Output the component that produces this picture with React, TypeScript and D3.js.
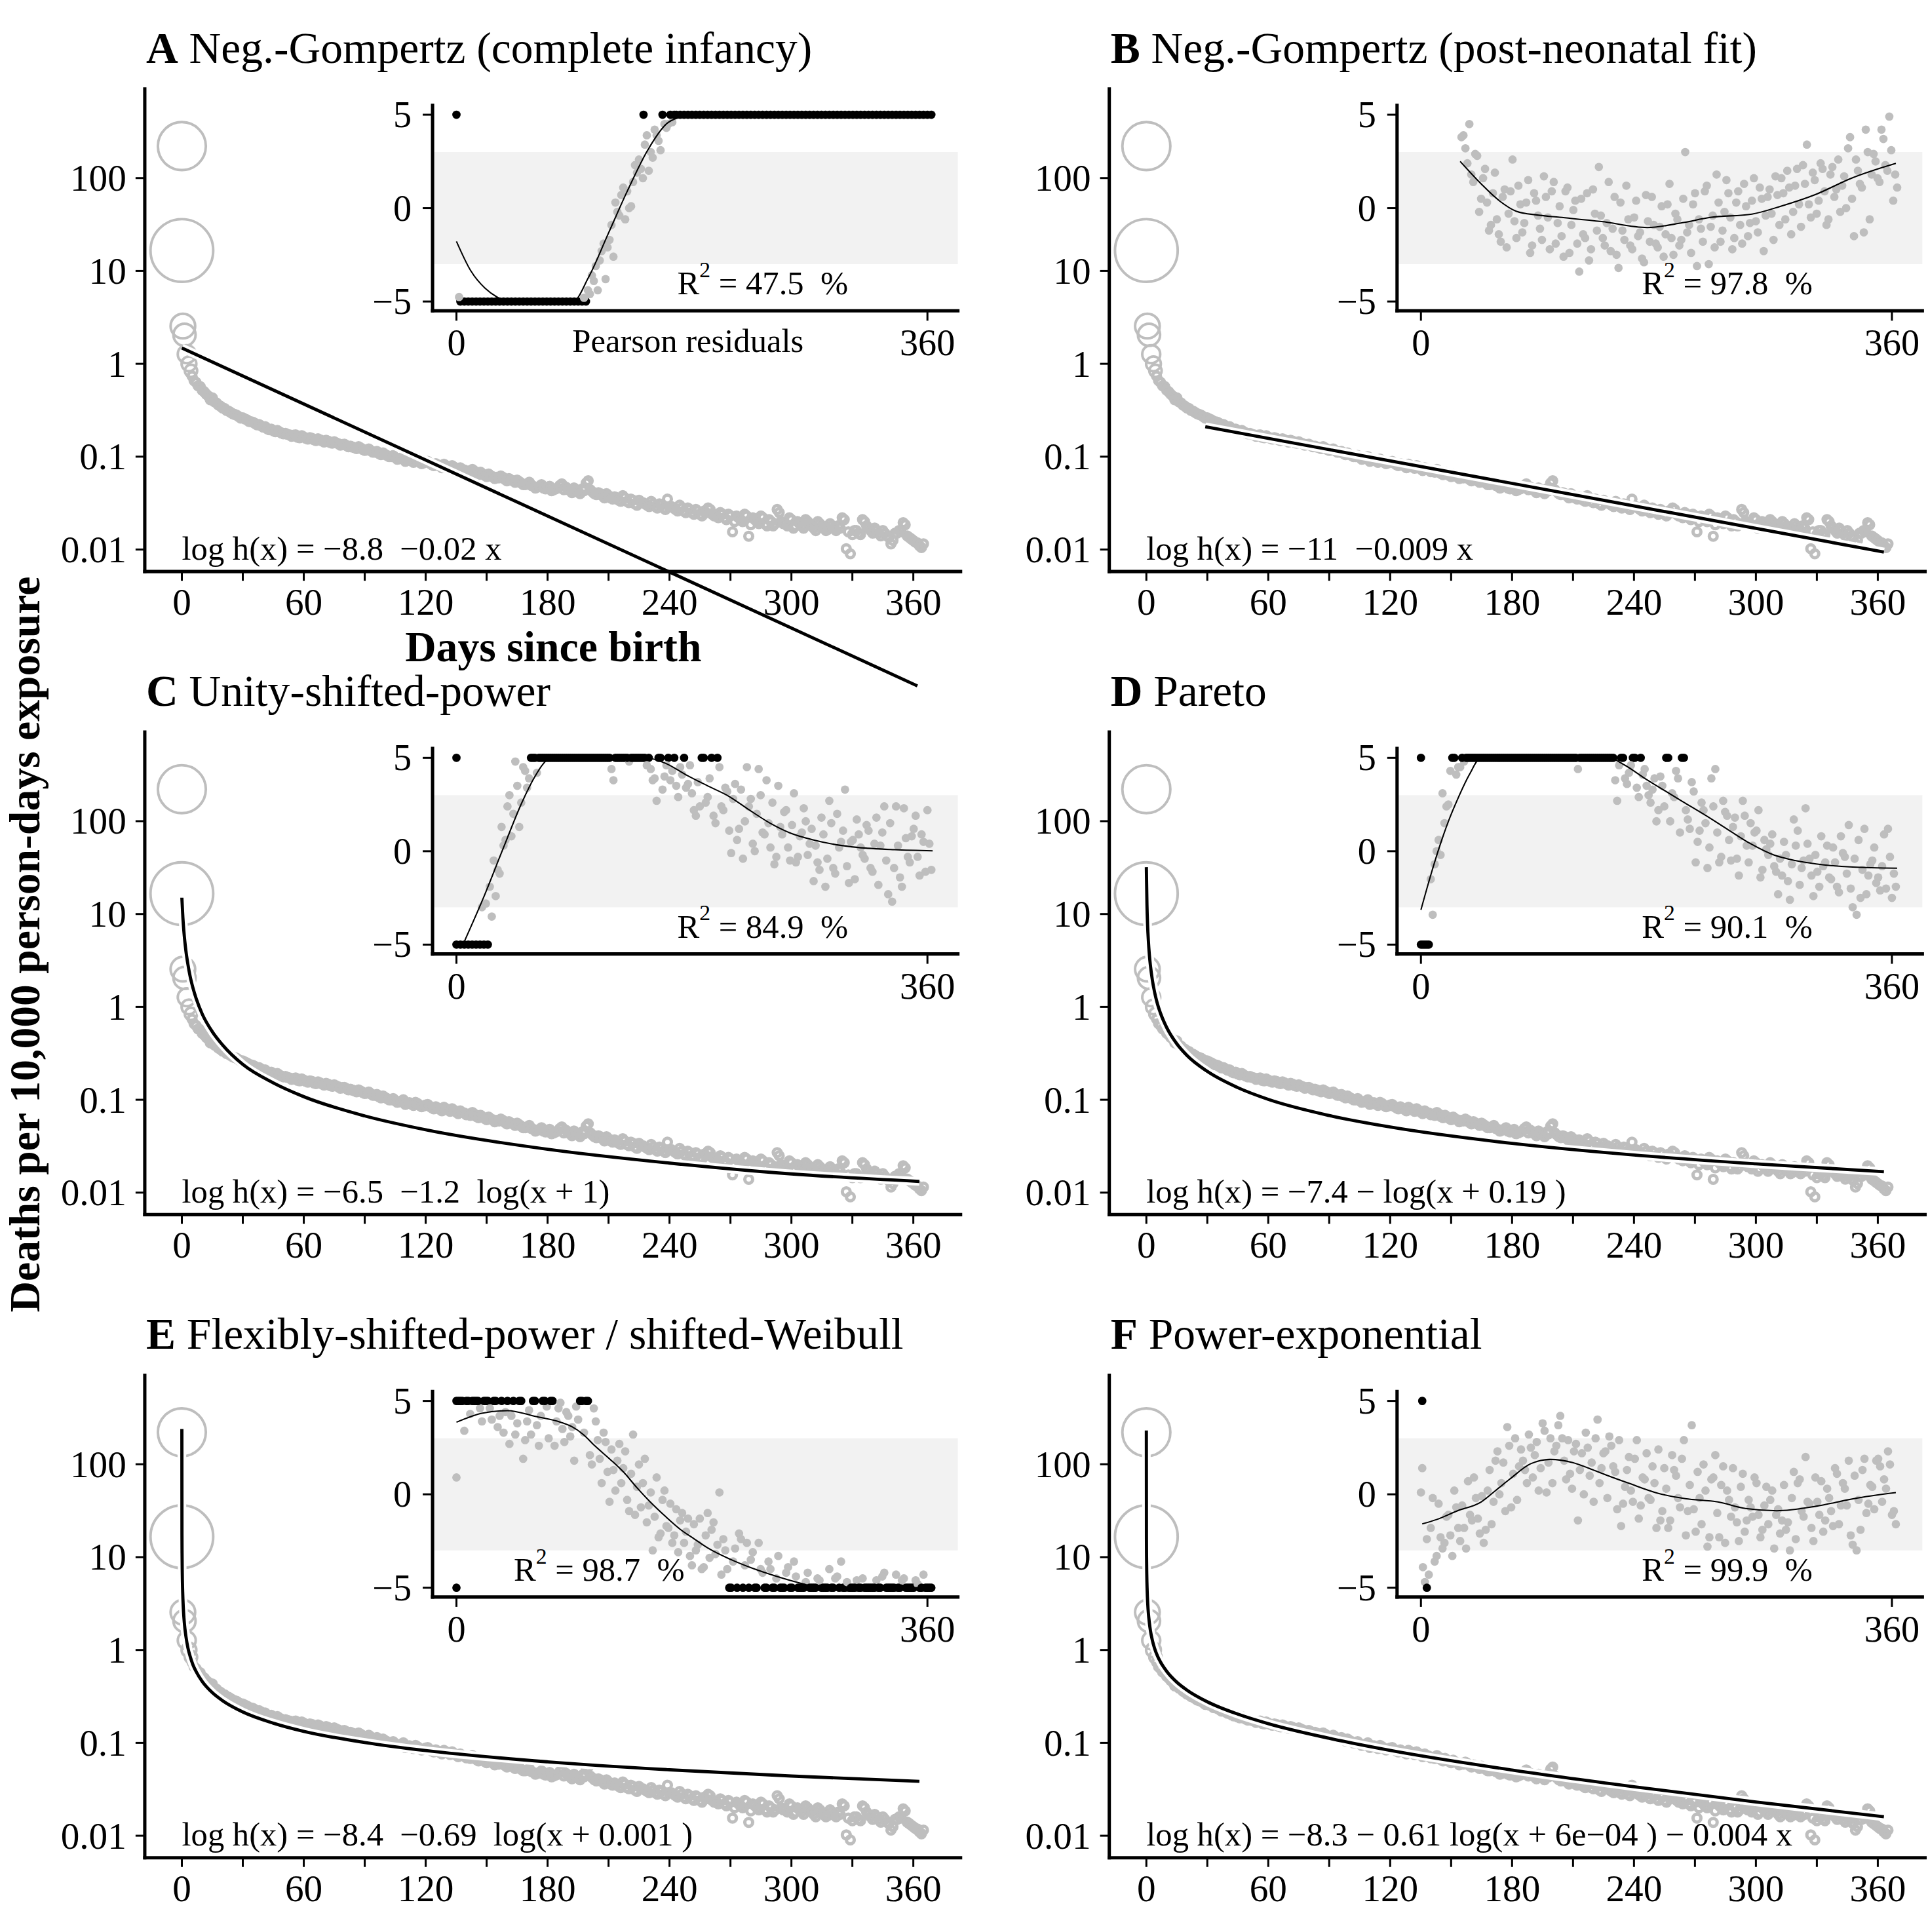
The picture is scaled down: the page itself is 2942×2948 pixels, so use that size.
import * as d3 from "d3";

const FONT = "'Liberation Serif', 'Times New Roman', Times, serif";
const GREY = "#bebebe";
const BAND = "#f2f2f2";

// drawing units: the figure is laid out on a 1568-wide grid and scaled up
const VB_W = 1568;
const VB_H = (1568 * 2948) / 2942;
const COL_DX = 784.4;
const ROW_DY = 523;

// observed hazard (deaths per 10,000 person-days), odd days 5..365
const obsOdd = [
  0.74, 0.63, 0.57, 0.5, 0.45, 0.43, 0.38, 0.35, 0.33, 0.31,
  0.29, 0.28, 0.26, 0.255, 0.24, 0.235, 0.22, 0.215, 0.21, 0.195,
  0.19, 0.192, 0.18, 0.178, 0.172, 0.17, 0.162, 0.168, 0.158, 0.16,
  0.152, 0.156, 0.148, 0.15, 0.142, 0.145, 0.138, 0.135, 0.132, 0.13,
  0.125, 0.128, 0.12, 0.118, 0.116, 0.112, 0.108, 0.11, 0.103, 0.1,
  0.098, 0.095, 0.1, 0.092, 0.09, 0.094, 0.087, 0.086, 0.089, 0.082,
  0.084, 0.079, 0.083, 0.078, 0.08, 0.074, 0.076, 0.072, 0.07, 0.073,
  0.066, 0.068, 0.063, 0.065, 0.061, 0.06, 0.062, 0.057, 0.058, 0.055,
  0.056, 0.052, 0.05, 0.053, 0.048, 0.047, 0.05, 0.045, 0.048, 0.044,
  0.046, 0.051, 0.047, 0.043, 0.046, 0.042, 0.045, 0.052, 0.044, 0.04,
  0.041, 0.038, 0.04, 0.036, 0.037, 0.034, 0.038, 0.033, 0.035, 0.031,
  0.034, 0.032, 0.03, 0.033, 0.029, 0.031, 0.028, 0.035, 0.029, 0.027,
  0.03, 0.026, 0.028, 0.025, 0.027, 0.024, 0.026, 0.028, 0.024, 0.023,
  0.025, 0.022, 0.024, 0.0155, 0.023, 0.021, 0.024, 0.0139, 0.022, 0.02,
  0.023, 0.019, 0.021, 0.018, 0.027, 0.02, 0.019, 0.022, 0.017, 0.02,
  0.018, 0.021, 0.019, 0.017, 0.02, 0.018, 0.016, 0.019, 0.017, 0.018,
  0.022, 0.0102, 0.009, 0.016, 0.015, 0.021, 0.018, 0.016, 0.017, 0.015,
  0.016, 0.014, 0.0115, 0.015, 0.016, 0.0195, 0.014, 0.013, 0.012, 0.011,
  0.0115,
];
// observed hazard, even days 6..364
const obsEven = [
  0.66, 0.58, 0.52, 0.47, 0.41, 0.39, 0.36, 0.335, 0.315, 0.3,
  0.285, 0.27, 0.262, 0.25, 0.238, 0.228, 0.222, 0.208, 0.2, 0.198,
  0.186, 0.185, 0.176, 0.174, 0.166, 0.172, 0.16, 0.163, 0.155, 0.158,
  0.149, 0.152, 0.144, 0.147, 0.14, 0.141, 0.133, 0.136, 0.128, 0.127,
  0.122, 0.124, 0.117, 0.121, 0.112, 0.114, 0.105, 0.106, 0.1, 0.103,
  0.094, 0.097, 0.089, 0.093, 0.087, 0.091, 0.084, 0.088, 0.085, 0.08,
  0.081, 0.076, 0.08, 0.075, 0.077, 0.071, 0.073, 0.069, 0.068, 0.07,
  0.064, 0.065, 0.061, 0.062, 0.058, 0.059, 0.06, 0.055, 0.056, 0.053,
  0.054, 0.05, 0.051, 0.049, 0.046, 0.048, 0.046, 0.047, 0.043, 0.045,
  0.049, 0.044, 0.045, 0.041, 0.044, 0.04, 0.043, 0.055, 0.042, 0.039,
  0.04, 0.036, 0.038, 0.035, 0.036, 0.033, 0.036, 0.032, 0.034, 0.03,
  0.032, 0.031, 0.029, 0.031, 0.028, 0.03, 0.027, 0.029, 0.028, 0.026,
  0.028, 0.025, 0.027, 0.024, 0.026, 0.023, 0.025, 0.027, 0.023, 0.022,
  0.024, 0.021, 0.023, 0.02, 0.022, 0.02, 0.023, 0.0185, 0.021, 0.019,
  0.022, 0.018, 0.02, 0.019, 0.025, 0.019, 0.018, 0.021, 0.018, 0.019,
  0.017, 0.02, 0.018, 0.016, 0.019, 0.017, 0.0165, 0.018, 0.016, 0.017,
  0.021, 0.0155, 0.0145, 0.016, 0.0145, 0.02, 0.017, 0.015, 0.016, 0.014,
  0.015, 0.0135, 0.0125, 0.015, 0.0155, 0.0185, 0.0135, 0.0125, 0.0118, 0.0105,
];
// first days: [day, hazard, circle radius]
const earlyObs: [number, number, number][] = [
  [0, 221, 19.5], [0, 16.6, 25.5], [0.5, 2.55, 10], [1.3, 2.05, 9],
  [2.4, 1.27, 7.3], [3.5, 1.0, 6], [4.5, 0.84, 5],
];

// fitted hazards: [day, hazard]
const fitA: [number, number][] = [[0, 1.48], [362, 0.00034]];
const fitB: [number, number][] = [[29, 0.21], [363, 0.0094]];
const fitC: [number, number][] = [
  [0, 15], [0.5, 9.2], [1, 6.5], [2, 4], [3, 2.85], [4, 2.17], [5.5, 1.59], [7, 1.24],
  [10, 0.84], [15, 0.54], [20, 0.39], [30, 0.24], [45, 0.152], [60, 0.108], [90, 0.067],
  [120, 0.0475], [180, 0.0293], [240, 0.0208], [300, 0.0159], [363, 0.0132],
];
const fitD: [number, number][] = [
  [0, 32], [0.3, 12.5], [0.6, 7.7], [1, 5.13], [1.5, 3.6], [2, 2.79], [3, 1.92], [4, 1.46],
  [5.5, 1.07], [7, 0.85], [10, 0.6], [15, 0.4], [20, 0.3], [30, 0.202], [45, 0.135],
  [60, 0.101], [90, 0.0677], [120, 0.0509], [180, 0.0339], [240, 0.0254], [300, 0.0204],
  [363, 0.0168],
];
const fitE: [number, number][] = [
  [0, 240], [0.05, 17.5], [0.1, 11], [0.2, 6.8], [0.4, 4.25], [0.7, 2.88], [1, 2.25],
  [1.5, 1.7], [2, 1.4], [3, 1.05], [4, 0.865], [5.5, 0.69], [7, 0.587], [10, 0.459],
  [15, 0.347], [20, 0.285], [30, 0.215], [45, 0.163], [60, 0.133], [90, 0.101],
  [120, 0.0826], [180, 0.0625], [240, 0.0513], [300, 0.0439], [363, 0.0385],
];
const fitF: [number, number][] = [
  [0, 231], [0.05, 15.4], [0.1, 10.1], [0.2, 6.6], [0.4, 4.35], [0.7, 3.1], [1, 2.48],
  [1.5, 1.95], [2, 1.62], [3, 1.26], [4, 1.05], [5.5, 0.86], [7, 0.74], [10, 0.59],
  [15, 0.45], [20, 0.37], [30, 0.277], [45, 0.204], [60, 0.161], [90, 0.112],
  [120, 0.083], [180, 0.051], [240, 0.0337], [300, 0.0231], [363, 0.016],
];

// Pearson residuals (clipped at +-5), every 3 days from the given start day
const residStep = 3;
const residA = [
  5,
  -5, -5, -5, -5, -5, -5, -5, -5, -5, -5, -5, -5, -5, -5, -5, -5, -5,
  -5, -5, -5, -5, -5, -5, -5, -5, -5, -5, -5, -5, -5, -5, -5, -5,
  -4.6, -3.9, -4.4, -2.3, -3.8, -1.7, -2.6, -0.2, 0.7, -0.6, 0.0,
  1.4, 1.9, 2.1, 3.4, 2.0, 2.7, 3.9, 3.1, 4.5, 4.5, 4.6,
  5, 5, 5, 5, 5, 5, 5, 5, 5, 5, 5, 5, 5, 5, 5, 5, 5, 5, 5, 5, 5, 5,
  5, 5, 5, 5, 5, 5, 5, 5, 5, 5, 5, 5, 5, 5, 5, 5, 5, 5, 5, 5, 5, 5,
  5, 5, 5, 5, 5, 5, 5, 5, 5, 5, 5, 5, 5, 5, 5, 5, 5, 5, 5, 5, 5, 5,
];
const residA2 = [
  -4.8, -4.4, -3.6, -3.1, -2.8, -1.9, -2.1, -0.9, 0.3, -0.4, 1.1, 0.9,
  0.1, 2.3, 2.6, 1.6, 3.9, 3.0, 4.2, 3.6, 5, 4.3, 5, 5,
];
const residB = [
  3.8, 3.2, 4.5, 1.4, 2.8, 0.5, 2.1, -1.2, 0.8, -0.6,
  -1.8, 1.0, -0.3, 2.6, -1.6, 0.2, -0.8, 1.5, -2.0, 0.4,
  -1.1, 1.7, -0.5, 0.9, -1.9, 0.1, -2.6, 1.1, -0.9, 0.4,
  -3.4, -1.4, 0.8, -2.2, -0.3, 2.2, -1.6, -0.8, -2.3, 0.6,
  -3.2, -1.2, 1.2, -2.0, -0.5, -1.5, -2.7, 0.7, -1.8, -0.9,
  -2.1, 0.1, -1.4, 1.3, -2.5, -0.6, -1.7, 3.0, -0.9, 0.2,
  -3.1, -1.1, 0.9, -3.0, -0.4, 1.8, -1.8, -0.2, 0.8, -2.2,
  0.3, -0.9, 1.3, -1.5, 0.4, -0.7, 1.1, -2.3, 0.6, -0.3,
  1.7, -0.9, 0.8, 2.0, -1.4, 1.2, 0.2, 2.3, 3.4, -0.5,
  1.5, 0.4, 2.1, -0.9, 1.8, 0.6, 2.6, 1.2, 0.0, 3.8,
  -1.5, 2.0, 1.1, 4.2, -0.6, 2.9, 1.6, 4.2, 2.3, 4.9,
  0.4, 1.1,
];
const residB2 = [
  3.9, 2.4, 1.8, 2.9, -0.2, 1.6, 0.3, -0.9, 1.9, -1.4,
  0.6, -2.1, 0.9, -0.7, 1.2, -1.3, 0.3, -2.4, 0.8, -0.4,
  -1.7, 0.6, -2.2, 1.4, -0.8, -1.5, 0.9, -2.4, -0.1, -1.9,
  0.5, -1.6, -2.8, 1.0, -1.2, -0.4, -2.0, 1.4, -1.1, -2.5,
  0.3, -1.7, -0.6, -2.2, 0.4, -1.3, -2.9, -0.7, 0.6, -1.9,
  -1.0, -2.6, 0.2, -1.6, -0.3, -2.0, 0.5, -1.3, -2.4, 0.8,
  -0.6, -1.8, 1.2, -1.0, -2.1, 0.3, -1.2, 1.5, -0.5, -1.6,
  0.9, -1.9, 0.1, -0.8, 1.6, -1.3, 0.5, -0.4, 1.0, -1.7,
  0.7, 1.6, -0.6, 1.1, -0.2, 2.1, -1.0, 1.3, 0.2, 1.9,
  -0.3, 2.4, 0.9, -0.6, 2.2, 1.0, -0.2, 1.7, 3.2, 0.5,
  2.6, 1.3, -1.3, 3.0, 1.8, 2.5, 1.4, 3.7, 2.0, 3.1,
  1.8,
];
const residC = [
  5, -5, -5, -5, -5, -5, -5, -5, -5, -3.5,
  -2.4, -1.2, 0.3, 2.4, 0.8, 4.8, 1.3, 4.5, 3.4, 5,
  5, 5, 5, 5, 5, 5, 5, 5, 5, 5, 5, 5, 5, 5, 5, 5, 5, 5, 5, 5,
  3.8, 5, 5, 5, 4.8, 5, 5, 5, 5, 5, 3.8,
  2.7, 5, 4.0, 5, 4.3, 3.5, 4.5, 5, 3.6, 3.1,
  1.9, 2.4, 5, 2.9, 5, 1.5, 4.5, 2.2, 3.2, -0.1,
  3.6, 1.2, -0.4, 4.5, 2.8, 0.0, 4.4, 1.0, 3.8, 0.2,
  -0.7, 3.5, 0.9, 2.2, -0.5, 3.1, -0.3, 1.0, 1.6, 0.4,
  -1.6, -0.6, 1.8, -1.9, 2.7, -0.9, 2.0, 0.5, 3.3, -1.7,
  0.6, 1.7, 0.2, -0.4, 1.1, -1.1, 1.8, 0.3, 2.4, -2.3,
  -2.7, 2.4, -1.4, 2.3, -0.3, 0.8, 1.9, -1.3, 0.5, 2.2,
  -1.0,
];
const residC2 = [
  -3.0, -2.8, -1.9, -0.5, -1.0, 1.3, 0.6, 3.0, 2.0, 3.5,
  2.6, 4.3, 3.9, 5, 4.2, 5,
  5, 5, 5, 5, 5, 5, 5, 5, 5, 5, 5, 5, 5, 5, 5, 5, 5,
  4.4, 5, 5, 5, 5, 5, 5, 5, 5, 4.6,
  4.4, 3.9, 5, 3.3, 4.6, 3.8, 5, 2.9, 4.1, 3.4,
  4.6, 2.2, 3.7, 5, 2.6, 3.9, 1.9, 5, 2.4, 3.4,
  1.1, 2.8, 0.6, 3.3, 1.6, 2.4, 0.4, 2.0, 3.0, 0.9,
  1.5, 2.6, -0.3, 1.3, 2.1, 0.2, 1.4, -0.6, 0.8, 2.3,
  -0.2, 1.2, 0.3, -1.0, 0.9, -0.4, 1.5, -1.2, 0.2, 1.1,
  -0.8, 0.5, -1.5, 0.9, -0.2, 1.4, -0.9, 0.4, -1.8, 1.0,
  -0.5, 1.5, -0.9, 0.3, -1.9, 0.7, -0.6, 1.2, -0.3, 0.9,
  -1.1, 0.4,
];
const residD = [
  5, -5, -5, -3.4, 0.0, -0.2, 1.5, 2.5, 5, 4.1,
  4.5, 4.8, 5, 5, 5, 5, 5, 5, 5, 5, 5, 5, 5, 5, 5, 5, 5, 5, 5, 5,
  5, 5, 5, 5, 5, 5, 5, 5, 5, 5,
  4.4, 5, 5, 5, 5, 5, 5, 5, 5, 5, 2.7,
  5, 3.9, 4.2, 5, 3.4, 5, 4.4, 3.0, 3.3, 1.6,
  4.0, 2.4, 5, 3.1, 4.3, 1.0, 5, 1.7, 3.7, -0.6,
  1.1, 2.2, -0.9, 3.9, 4.4, -0.6, 2.7, 1.9, -0.5, 1.8,
  -1.3, 2.7, 0.3, 1.5, 1.0, 2.2, -1.0, 0.1, 0.4, -0.8,
  -2.3, -1.3, -0.2, -2.6, 1.7, 1.1, -0.9, 2.3, -0.4, -2.4,
  -1.1, 0.8, -0.6, -1.4, 0.2, -1.9, 0.8, -0.3, 1.4, -3.0,
  -3.4, -2.5, 1.2, -1.3, -0.5, -1.7, -2.1, 0.9, 1.2, -2.5,
  -1.9,
];
const residD2 = [
  -5, -5, -1.5, -0.7, 0.6, 3.1, 2.4, 4.3, 5, 4.5, 5,
  5, 5, 5, 5, 5, 5, 5, 5, 5, 5, 5, 5, 5, 5, 5, 5, 5, 5, 5,
  5, 5, 5, 5, 5, 5, 5, 5, 5, 5, 5, 5, 5, 5, 5, 5, 5, 5, 5,
  3.8, 4.6, 5, 3.6, 4.6, 5, 2.9, 4.1, 3.5, 2.6,
  3.9, 2.2, 3.5, 5, 1.6, 2.9, 3.9, 5, 2.2, 1.2,
  3.2, 0.5, 2.6, 1.5, 0.2, 2.4, 1.0, -0.3, 2.1, 0.6,
  1.3, -0.4, 0.8, 1.9, -0.6, 0.3, 1.1, -1.4, 0.6, -0.2,
  0.9, -1.1, -0.4, 0.5, -1.6, -0.7, 0.3, -1.8, -0.5, 0.4,
  -1.3, -0.2, -1.9, -0.8, 0.3, -1.5, -0.6, -2.2, -0.1, -1.2,
  -2.0, -0.4, 0.6, -1.0, -2.3, -0.7, 0.2, -1.4, -0.8, -2.0,
  -0.3, -1.2,
];
const residE = [
  5, 5, 3.4, 5, 5, 5, 4.6, 5, 5, 4.0,
  5, 4.2, 3.3, 5, 4.2, 3.2, 5, 1.9, 3.9, 3.2,
  5, 2.6, 5, 4.7, 5, 2.6, 4.6, 3.5, 4.4, 3.1,
  1.8, 4.0, 5, 5, 2.1, 4.6, 2.9, 0.6, 2.8, -0.4,
  1.3, 1.8, 0.6, 2.3, -0.9, 3.2, 0.4, -0.7, 1.9, -0.6,
  -3.0, 0.9, -2.1, 0.2, -1.8, -2.6, -0.8, -1.4, -2.6, -1.3,
  -3.8, -3.0, -1.3, -3.9, -1.0, -1.9, -3.2, 0.1, -2.4, -4.0,
  -5, -2.9, -2.1, -5, -2.6, -3.5, -5, -2.6, -4.2, -5,
  -4.0, -5, -3.3, -5, -4.2, -5, -3.6, -5, -5, -4.7,
  -5, -5, -4.5, -5, -5, -4.0, -5, -4.4, -3.6, -5,
  -5, -5, -4.6, -5, -5, -5, -5, -4.6, -5, -4.2,
  -5, -5, -4.3, -5, -4.5, -5, -5, -4.6, -5, -4.3,
  -5, -5,
];
const residE2 = [
  5, 5, 5, 4.3, 5, 5, 3.9, 5, 4.6, 5,
  3.6, 5, 4.4, 2.7, 5, 3.8, 5, 2.9, 4.5, 5,
  3.7, 4.2, 5, 3.0, 5, 3.9, 4.9, 2.8, 4.2, 3.6,
  4.7, 5, 3.3, 5, 1.6, 3.9, 1.9, 3.3, 1.2, 2.4,
  0.2, 2.7, 1.4, -0.3, 1.1, -1.1, 1.6, 0.6, -1.5, 0.1,
  -1.2, -2.3, -0.3, -1.7, -0.5, -2.2, -3.1, -1.0, -2.0, -3.3,
  -1.6, -2.7, -4.0, -2.2, -3.4, -1.5, -2.7, -4.3, -3.0, -5,
  -3.6, -5, -2.4, -3.8, -5, -3.1, -5, -4.0, -5, -3.6,
  -5, -4.5, -5, -5, -3.9, -5, -4.4, -5, -5, -4.2,
  -5, -5, -4.6, -5, -5, -5, -4.5, -5, -5, -4.7,
  -5, -5, -5, -4.5, -5, -5, -5, -5, -4.4, -5,
  -5, -5, -5, -4.6, -5, -5, -5, -4.8, -5, -5,
  -5,
];
const residF = [
  0.1, -4.7, -4.3, -0.2, -3.3, -2.3, -2.6, -1.1, -3.3, -0.7,
  -2.5, -1.8, 0.7, -1.4, -0.2, -2.1, -2.6, 0.2, -1.6, 1.8,
  0.0, 1.7, 3.6, -0.7, 3.0, 1.5, 1.8, 0.6, 2.5, 2.1,
  0.2, 3.8, 0.1, 3.0, 2.3, 3.7, 3.0, 0.8, 1.1, 2.3,
  -1.4, 2.2, 3.3, 1.0, -0.4, 4.0, 1.4, 2.3, 3.1, 1.5,
  -0.8, -1.7, 0.4, 2.0, -0.4, 2.9, -0.6, 0.8, -0.2, 1.5,
  -1.8, -1.4, 1.4, -1.8, 2.1, 1.0, -0.7, 2.9, -0.9, 3.7,
  -2.0, -0.2, 1.6, -2.8, 0.8, 2.1, -2.3, 1.5, 0.2, -1.2,
  -0.7, -2.5, 1.1, -1.4, -0.7, 0.9, -1.1, -1.9, 0.4, -0.3,
  -2.9, -0.8, -1.4, -1.9, -3.0, 1.2, 0.6, -0.9, 2.0, -0.5,
  -2.5, -0.4, 0.7, -1.4, -0.2, -1.7, 1.1, -0.6, 0.3, 1.8,
  -2.7, -3.0, -1.9, 1.9, -0.5, 0.4, 1.8, 1.5, 0.8, 2.3,
  -1.1, -1.6,
];
const residF2 = [
  -3.9, -2.4, -1.8, -3.6, -0.5, -2.9, -1.2, -2.2, 0.2, -1.8,
  -0.6, -2.9, -1.1, 0.9, -1.3, -0.1, -1.9, 1.3, -0.4, 2.3,
  0.6, -0.9, 2.6, 1.1, -0.3, 2.4, 1.3, 3.2, 0.9, 2.8,
  1.4, 3.4, 1.7, 0.6, 2.6, 4.2, 1.8, 2.9, 0.3, 2.7,
  1.3, 0.0, 2.5, 1.7, 3.0, 0.6, 2.2, -0.2, 2.6, 1.2,
  2.9, -0.5, 1.3, 0.2, 1.9, -1.3, 0.9, 2.2, -0.3, 0.6,
  2.4, -0.9, 0.3, -1.4, 1.3, -0.2, 1.9, -2.2, 0.5, -0.8,
  1.2, -1.6, 0.2, -2.3, 0.9, -1.0, 0.5, -2.6, -0.3, 1.4,
  -1.5, 0.4, -2.0, -0.3, -1.2, 0.6, -2.3, -0.6, -1.6, 0.2,
  -1.1, -2.1, 0.5, -1.5, -0.2, -2.4, 0.8, -1.2, -0.4, -1.8,
  0.9, -1.1, -2.0, 0.3, -0.9, 1.4, -1.6, 0.6, -0.6, -2.2,
  1.0, -0.3, 1.3, -1.0, 0.5, -0.8, 1.9, -0.4, 0.3, 1.6,
  -0.9,
];
// stray residuals: [day, residual]
const extraA: [number, number][] = [[2, -4.76], [143, 5]];
const extraC: [number, number][] = [[0, -5]];
const extraD: [number, number][] = [[0, -5]];
const extraE: [number, number][] = [[0, -5], [0, 0.9]];
const extraF: [number, number][] = [[1, 5], [4.5, -5], [1, 1.4]];

// smoothed residual trend: [day, residual]
const loessA: [number, number][] = [
  [0, -1.78], [11, -3.36], [22, -4.3], [31, -4.76], [40, -5], [89, -5], [101, -3.7],
  [116, -1.37], [131, 0.97], [146, 3.08], [161, 4.54], [170, 4.85], [178, 5], [364, 5],
];
const loessB: [number, number][] = [
  [30, 2.5], [46, 1.3], [60, 0.39], [73, -0.17], [89, -0.37], [106, -0.49], [138, -0.72],
  [173, -1.04], [200, -0.78], [221, -0.5], [253, -0.32], [275, 0.1], [302, 0.74],
  [329, 1.6], [363, 2.4],
];
const loessC: [number, number][] = [
  [6, -4.84], [20, -2.6], [36, 0.2], [50, 2.6], [60, 4.0], [66, 4.65], [72, 5], [144, 5],
  [160, 4.7], [176, 4.07], [192, 3.5], [208, 2.95], [224, 2.2], [240, 1.49], [256, 0.95],
  [273, 0.6], [290, 0.35], [307, 0.2], [335, 0.08], [364, 0.02],
];
const loessD: [number, number][] = [
  [0, -3.14], [7, -1.4], [14, 0.2], [21, 1.6], [28, 2.78], [37, 4.1], [46, 5], [143, 5],
  [156, 4.6], [170, 3.95], [185, 3.3], [200, 2.66], [218, 1.9], [235, 1.14], [252, 0.4],
  [270, -0.21], [286, -0.5], [302, -0.68], [330, -0.85], [364, -0.91],
];
const loessE: [number, number][] = [
  [0, 3.86], [20, 4.35], [39, 4.48], [61, 4.16], [80, 3.85], [88, 3.63], [97, 3.2],
  [106, 2.58], [117, 1.9], [128, 1.17], [138, 0.35], [149, -0.47], [160, -1.2],
  [171, -1.87], [182, -2.4], [192, -2.87], [210, -3.5], [227, -3.98], [245, -4.4],
  [262, -4.74], [280, -5], [364, -5],
];
const loessF: [number, number][] = [
  [1, -1.58], [12, -1.35], [28, -0.88], [46, -0.41], [57, 0.2], [68, 0.82], [84, 1.64],
  [99, 1.87], [116, 1.7], [130, 1.35], [141, 1.05], [159, 0.59], [181, 0.06], [202, -0.23],
  [227, -0.41], [248, -0.76], [272, -0.88], [302, -0.64], [331, -0.23], [363, 0.09],
];

const letters = ["A", "B", "C", "D", "E", "F"];
const titles = [
  "Neg.-Gompertz (complete infancy)",
  "Neg.-Gompertz (post-neonatal fit)",
  "Unity-shifted-power",
  "Pareto",
  "Flexibly-shifted-power / shifted-Weibull",
  "Power-exponential",
];
const formulas = [
  "log h(x) = \u22128.8  \u22120.02 x",
  "log h(x) = \u221211  \u22120.009 x",
  "log h(x) = \u22126.5  \u22121.2  log(x + 1)",
  "log h(x) = \u22127.4 \u2212 log(x + 0.19 )",
  "log h(x) = \u22128.4  \u22120.69  log(x + 0.001 )",
  "log h(x) = \u22128.3 \u2212 0.61 log(x + 6e\u221204 ) \u2212 0.004 x",
];
const r2Values = ["47.5", "97.8", "84.9", "90.1", "98.7", "99.9"];
const fits = [fitA, fitB, fitC, fitD, fitE, fitF];
// per panel: [start day, residuals]
const residSets: [number, number[]][][] = [
  [[0, residA], [97.5, residA2]],
  [[31, residB], [32.5, residB2]],
  [[0, residC], [19.5, residC2]],
  [[0, residD], [1.5, residD2]],
  [[0, residE], [1.5, residE2]],
  [[0, residF], [1.5, residF2]],
];
const extras = [extraA, [] as [number, number][], extraC, extraD, extraE, extraF];
const loesses = [loessA, loessB, loessC, loessD, loessE, loessF];

const yTicks = [0.01, 0.1, 1, 10, 100];
const yTickLabels = ["0.01", "0.1", "1", "10", "100"];
const xTicks = d3.range(0, 361, 30);

const x = d3.scaleLinear().domain([-18.25, 383.25]).range([117.75, 781.2]);
const y = d3.scaleLog().domain([10 ** -2.237, 10 ** 2.959]).range([464.8, 72.4]);
const ix = d3.scaleLinear().domain([-18.25, 383.25]).range([351.8, 779]);
const iy = d3.scaleLinear().domain([-5.5, 5.5]).range([252.8, 85.7]);

const fitLine = d3
  .line<[number, number]>()
  .x((d) => x(d[0]))
  .y((d) => y(d[1]))
  .curve(d3.curveMonotoneX);
const loessLine = d3
  .line<[number, number]>()
  .x((d) => ix(d[0]))
  .y((d) => iy(d[1]))
  .curve(d3.curveMonotoneX);

const obsPoints: [number, number][] = [
  ...obsOdd.map((v, i) => [5 + i * 2, v] as [number, number]),
  ...obsEven.map((v, i) => [6 + i * 2, v] as [number, number]),
];

function Panel({ i }: { i: number }) {
  const col = i % 2;
  const row = Math.floor(i / 2);
  const pts: [number, number][] = [
    ...residSets[i].flatMap(([start, vals]) =>
      vals.map((v, k) => [start + k * residStep, v] as [number, number])
    ),
    ...extras[i],
  ];
  const r2x = ix.range()[0] + (i === 4 ? 66 : 199);
  return (
    <g transform={`translate(${col * COL_DX},${row * ROW_DY})`}>
      <text x={118.8} y={51} fontSize={36}>
        <tspan fontWeight="bold">{letters[i]}</tspan> {titles[i]}
      </text>

      {/* main scatter */}
      {earlyObs.map((d, k) => (
        <circle key={`e${k}`} cx={x(d[0])} cy={y(d[1])} r={d[2]} fill="none" stroke={GREY} strokeWidth={2.1} />
      ))}
      {obsPoints.map((d, k) => (
        <circle key={k} cx={x(d[0])} cy={y(d[1])} r={3.2} fill="none" stroke={GREY} strokeWidth={2.7} />
      ))}
      <path d={fitLine(fits[i]) ?? ""} fill="none" stroke="#fff" strokeWidth={7} />
      <path d={fitLine(fits[i]) ?? ""} fill="none" stroke="#000" strokeWidth={2.6} />

      {/* main axes */}
      <line x1={x.range()[0]} x2={x.range()[0]} y1={y.range()[1]} y2={y.range()[0]} stroke="#000" strokeWidth={2.7} strokeLinecap="square" />
      <line x1={x.range()[0]} x2={x.range()[1]} y1={y.range()[0]} y2={y.range()[0]} stroke="#000" strokeWidth={2.7} strokeLinecap="square" />
      {yTicks.map((t, k) => (
        <g key={k}>
          <line x1={x.range()[0] - 7.5} x2={x.range()[0]} y1={y(t)} y2={y(t)} stroke="#000" strokeWidth={1.6} />
          <text x={x.range()[0] - 15} y={y(t)} dy="0.34em" textAnchor="end" fontSize={30.5}>
            {yTickLabels[k]}
          </text>
        </g>
      ))}
      {xTicks.map((t) => (
        <g key={t}>
          <line x1={x(t)} x2={x(t)} y1={y.range()[0]} y2={y.range()[0] + 7.5} stroke="#000" strokeWidth={1.6} />
          {t % 60 === 0 && (
            <text x={x(t)} y={500} textAnchor="middle" fontSize={30.5}>
              {t}
            </text>
          )}
        </g>
      ))}
      <text x={x(0)} y={455} fontSize={27} style={{ whiteSpace: "pre" }}>
        {formulas[i]}
      </text>
      {i === 0 && (
        <text x={450} y={538} textAnchor="middle" fontSize={35} fontWeight="bold">
          Days since birth
        </text>
      )}

      {/* residual inset */}
      <rect x={ix.range()[0]} y={iy(3)} width={ix.range()[1] - ix.range()[0]} height={iy(-3) - iy(3)} fill={BAND} />
      {pts.map((d, k) => (
        <circle key={k} cx={ix(d[0])} cy={iy(d[1])} r={3.4} fill={Math.abs(d[1]) >= 5 ? "#000" : GREY} />
      ))}
      <path d={loessLine(loesses[i]) ?? ""} fill="none" stroke="#000" strokeWidth={1.1} />
      <line x1={ix.range()[0]} x2={ix.range()[0]} y1={iy.range()[1]} y2={iy.range()[0]} stroke="#000" strokeWidth={2.7} strokeLinecap="square" />
      <line x1={ix.range()[0]} x2={ix.range()[1]} y1={iy.range()[0]} y2={iy.range()[0]} stroke="#000" strokeWidth={2.7} strokeLinecap="square" />
      {[-5, 0, 5].map((t) => (
        <g key={t}>
          <line x1={ix.range()[0] - 8} x2={ix.range()[0]} y1={iy(t)} y2={iy(t)} stroke="#000" strokeWidth={1.6} />
          <text x={ix.range()[0] - 17} y={iy(t)} dy="0.34em" textAnchor="end" fontSize={30}>
            {t < 0 ? `\u2212${-t}` : t}
          </text>
        </g>
      ))}
      {[0, 360].map((t) => (
        <g key={t}>
          <line x1={ix(t)} x2={ix(t)} y1={iy.range()[0]} y2={iy.range()[0] + 8} stroke="#000" strokeWidth={1.6} />
          <text x={ix(t)} y={289} textAnchor="middle" fontSize={30}>
            {t}
          </text>
        </g>
      ))}
      <text x={r2x} y={239.5} fontSize={27} style={{ whiteSpace: "pre" }}>
        R<tspan fontSize={18} dy={-14}>2</tspan>
        <tspan dy={14}>{` = ${r2Values[i]}  %`}</tspan>
      </text>
      {i === 0 && (
        <text x={559.5} y={286} textAnchor="middle" fontSize={27}>
          Pearson residuals
        </text>
      )}
    </g>
  );
}

export default function App() {
  return (
    <svg
      width={2942}
      height={2948}
      viewBox={`0 0 ${VB_W} ${VB_H}`}
      style={{ position: "absolute", left: 0, top: 0, background: "#fff" }}
      fontFamily={FONT}
    >
      <rect x={0} y={0} width={VB_W} height={VB_H} fill="#fff" />
      {letters.map((_, i) => (
        <Panel key={i} i={i} />
      ))}
      <text
        transform={`translate(32,768) rotate(-90)`}
        textAnchor="middle"
        fontSize={35}
        fontWeight="bold"
      >
        Deaths per 10,000 person-days exposure
      </text>
    </svg>
  );
}
